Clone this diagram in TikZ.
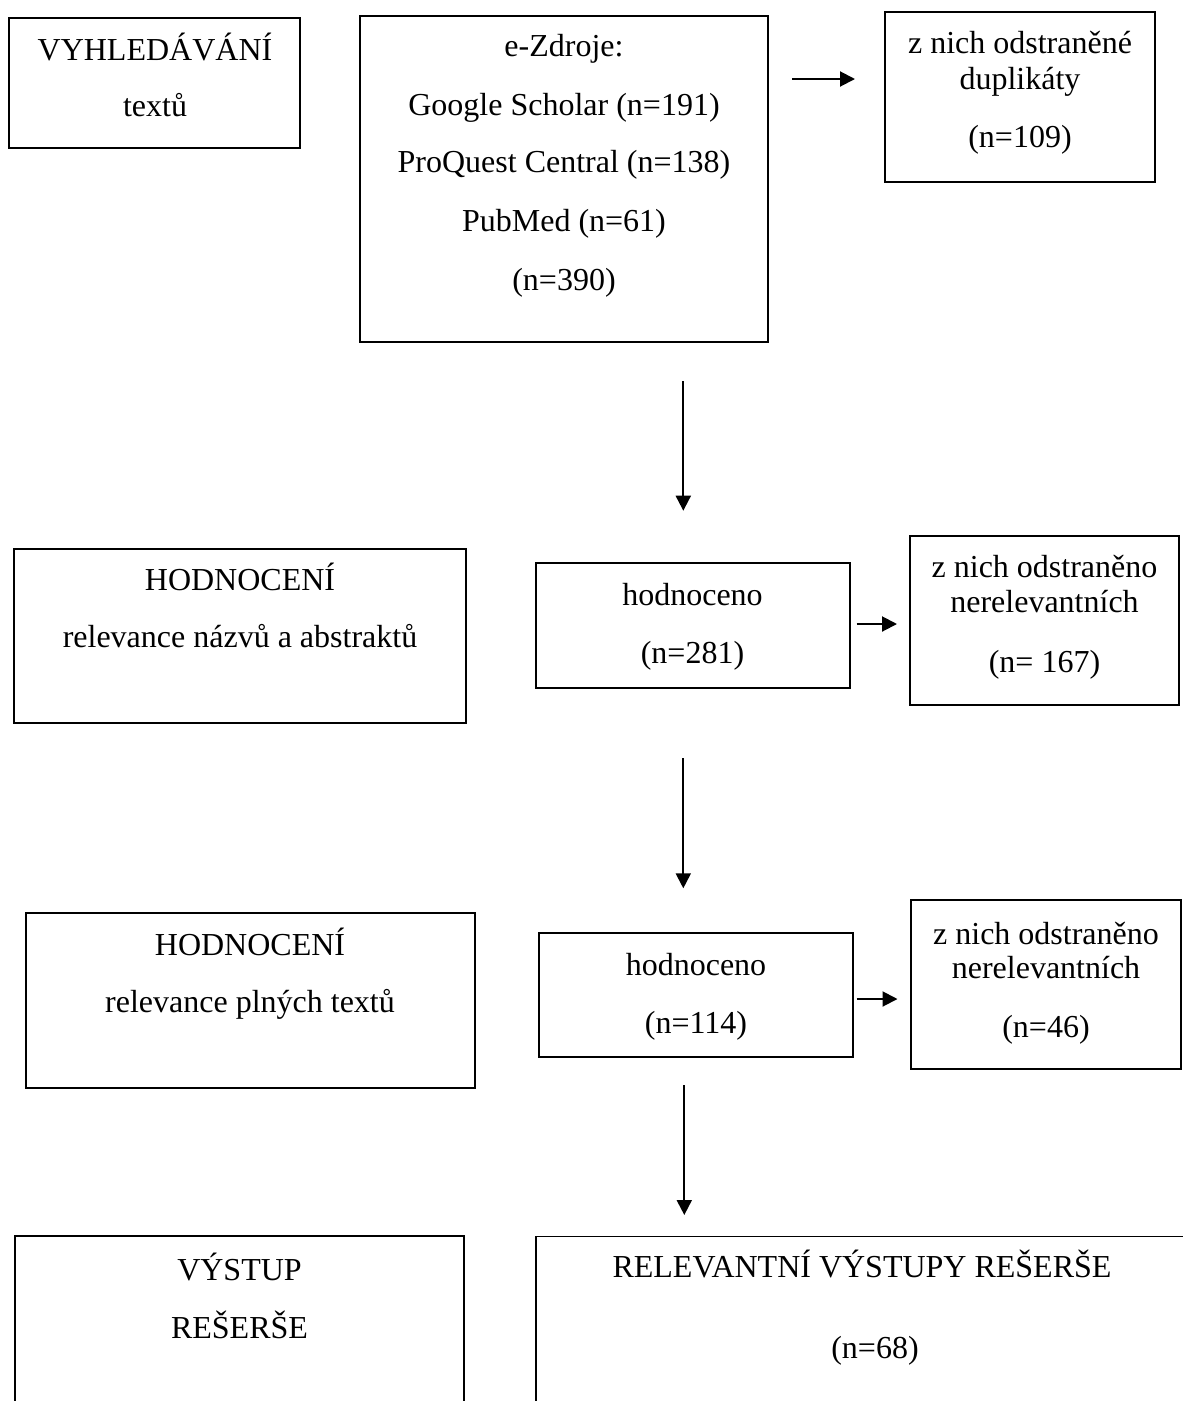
\documentclass[tikz,border=0pt]{standalone}
\usepackage{fontspec}
\setmainfont{Liberation Serif}
\usetikzlibrary{arrows.meta,fit}
\begin{document}
\begin{tikzpicture}[x=1pt,y=-1pt,
  box/.style={draw=black, line width=1.9pt, inner sep=0pt},
  txt/.style={anchor=base, inner sep=0pt, font=\fontsize{32}{38}\selectfont},
  arr/.style={line width=2pt, -{Triangle[length=15pt,width=15pt]}}]
\useasboundingbox (0,0) rectangle (1183,1401);
\clip (0,0) rectangle (1183,1401);

% ---- boxes ----
\node[box, fit={(9,17.7) (300,147.7)}] (A) {};
\node[box, fit={(360,16) (768,341.7)}] (B) {};
\node[box, fit={(885.3,12.3) (1154.7,181.7)}] (C) {};
\node[box, fit={(14.2,549.3) (465.7,722.7)}] (D) {};
\node[box, fit={(535.7,563.3) (850,687.7)}] (E) {};
\node[box, fit={(909.7,535.7) (1179,705)}] (F) {};
\node[box, fit={(26.4,913.3) (475.3,1088.3)}] (G) {};
\node[box, fit={(539,933.3) (853.3,1056.7)}] (H) {};
\node[box, fit={(911.3,900) (1180.7,1069.3)}] (I) {};
\node[box, fit={(15,1235.7) (464,1430)}] (J) {};
\node[box, fit={(535.6,1236.5) (1200,1430)}] (K) {};

% ---- texts ----
\node[txt] (a1) at (155,60) {VYHLEDÁVÁNÍ};
\node[txt] (a2) at (155,116.7) {textů};

\node[txt] (b1) at (564,56.7) {e-Zdroje:};
\node[txt] (b2) at (564,115) {Google Scholar (n=191)};
\node[txt] (b3) at (564,172.7) {ProQuest Central (n=138)};
\node[txt] (b4) at (564,231.7) {PubMed (n=61)};
\node[txt] (b5) at (564,290) {(n=390)};

\node[txt] (c1) at (1020,53.3) {z nich odstraněné};
\node[txt] (c2) at (1020,89.3) {duplikáty};
\node[txt] (c3) at (1020,147) {(n=109)};

\node[txt] (d1) at (240,590) {HODNOCENÍ};
\node[txt] (d2) at (240,647) {relevance názvů a abstraktů};

\node[txt] (e1) at (692.5,605) {hodnoceno};
\node[txt] (e2) at (692.5,663) {(n=281)};

\node[txt] (f1) at (1044.5,577.3) {z nich odstraněno};
\node[txt] (f2) at (1044.5,612.7) {nerelevantních};
\node[txt] (f3) at (1044.5,672) {(n= 167)};

\node[txt] (g1) at (250,955) {HODNOCENÍ};
\node[txt] (g2) at (250,1012) {relevance plných textů};

\node[txt] (h1) at (696,975) {hodnoceno};
\node[txt] (h2) at (696,1033) {(n=114)};

\node[txt] (i1) at (1046,944) {z nich odstraněno};
\node[txt] (i2) at (1046,978) {nerelevantních};
\node[txt] (i3) at (1046,1037) {(n=46)};

\node[txt] (j1) at (239.5,1280) {VÝSTUP};
\node[txt] (j2) at (239.5,1338) {REŠERŠE};

\node[txt] (k1) at (862,1277) {RELEVANTNÍ VÝSTUPY REŠERŠE};
\node[txt] (k2) at (875,1358) {(n=68)};

% ---- connectors ----
\coordinate (bcS) at (792,79);
\coordinate (bcE) at (855,79);
\coordinate (efS) at (856.5,624);
\coordinate (efE) at (897,624);
\coordinate (hiS) at (856.5,999);
\coordinate (hiE) at (897.5,999);
\coordinate (v1S) at (683.3,381);
\coordinate (v1E) at (683.3,510.7);
\coordinate (v2S) at (683.3,758.3);
\coordinate (v2E) at (683.3,888.3);
\coordinate (v3S) at (684.3,1085);
\coordinate (v3E) at (684.3,1215);

\draw[arr] (bcS) -- (bcE);
\draw[arr] (efS) -- (efE);
\draw[arr] (hiS) -- (hiE);
\draw[arr] (v1S) -- (v1E);
\draw[arr] (v2S) -- (v2E);
\draw[arr] (v3S) -- (v3E);
\end{tikzpicture}
\end{document}
